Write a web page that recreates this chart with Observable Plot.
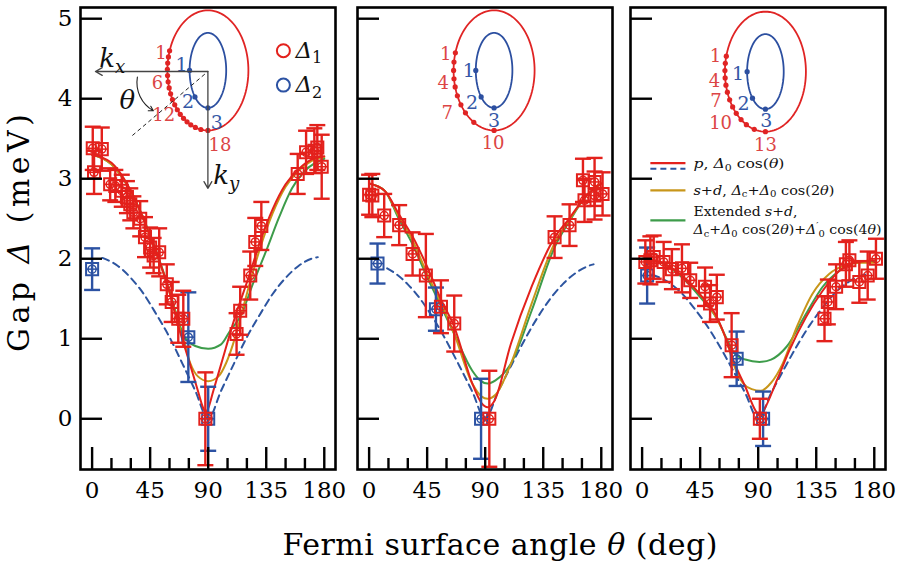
<!DOCTYPE html>
<html><head><meta charset="utf-8">
<script src="https://cdn.jsdelivr.net/npm/d3@7"></script>
<script src="https://cdn.jsdelivr.net/npm/@observablehq/plot@0.6"></script>
<style>
html,body{margin:0;padding:0;background:#fff;}
#chart{position:relative;width:901px;height:569px;background:#fff;overflow:hidden;font-family:"DejaVu Serif",serif;}
#chart svg{position:absolute;}
#chart text{font-family:"DejaVu Serif",serif !important;}
</style></head><body>
<div id="chart"></div>
<script>
// ---------- axes ----------
const thetaTicks = [0, 45, 90, 135, 180];
const thetaMinor = [15, 30, 60, 75, 105, 120, 150, 165];
const gapTicks = [0, 1, 2, 3, 4, 5];

// ---------- measured gaps: [theta (deg), gap (meV), error] ----------
const p1Delta1 = [[0.5,3.38,0.27],[1.5,3.08,0.27],[7.5,3.37,0.27],[14,2.93,0.2],[18,2.91,0.2],[23,2.85,0.2],[27,2.77,0.2],[29.6,2.68,0.2],[32,2.58,0.2],[37.3,2.5,0.22],[41,2.27,0.25],[45,2.14,0.25],[47.7,2.04,0.22],[52,2.08,0.3],[57.9,1.68,0.25],[61.7,1.46,0.25],[66.8,1.25,0.3],[70.7,1.25,0.35],[87.8,0,0.58],[112,1.06,0.26],[114.8,1.35,0.3],[122.6,1.79,0.3],[126.5,2.21,0.3],[131.2,2.41,0.3],[159.4,3.06,0.25],[165.9,3.33,0.27],[172.3,3.35,0.28],[174.6,3.39,0.28],[178,3.15,0.4]];
const p1Delta2 = [[0,1.87,0.26],[74.6,1.02,0.56],[90,0,0.4]];
const p2Delta1 = [[0,2.8,0.25],[2.5,2.79,0.27],[11.7,2.54,0.27],[23.3,2.42,0.25],[33.7,2.06,0.27],[44,1.79,0.52],[55.7,1.4,0.33],[66,1.19,0.35],[93.2,0,0.6],[143.8,2.27,0.26],[155.4,2.42,0.26],[165.8,2.98,0.27],[167,2.73,0.27],[174.8,2.96,0.3],[174.8,2.79,0.3],[181,2.81,0.27]];
const p2Delta2 = [[6.5,1.94,0.25],[51.8,1.37,0.27],[86.8,0,0.5]];
const p3Delta1 = [[2.5,1.96,0.27],[6.4,1.98,0.3],[9,2.02,0.27],[16.7,1.96,0.25],[23.1,1.87,0.25],[30.9,1.88,0.3],[37.3,1.73,0.22],[48.8,1.65,0.24],[52.7,1.44,0.23],[57.9,1.52,0.28],[69.4,0.92,0.4],[91.3,0,0.25],[141.4,1.25,0.28],[144,1.46,0.28],[150.4,1.65,0.28],[158,1.93,0.28],[160.7,1.98,0.25],[168.4,1.71,0.26],[174.9,1.79,0.3],[181.3,2.0,0.25]];
const p3Delta2 = [[3.9,1.79,0.35],[73.3,0.75,0.34],[93.8,0,0.34]];

// ---------- fitted curves: [theta, gap] ----------
const p1FitP   = [[0,3.3],[15,3.2],[30,2.85],[45,2.28],[60,1.58],[67,1.15],[75,0.73],[82,0.35],[86,0.14],[88,0.08],[90,0.13],[94,0.35],[100,0.68],[110,1.23],[122,1.8],[130,2.2],[140,2.62],[150,2.93],[160,3.12],[170,3.24],[180,3.28]];
const p1FitSD  = [[0,3.3],[15,3.18],[30,2.84],[45,2.28],[60,1.58],[67,1.18],[71,0.98],[76,0.7],[82,0.53],[90,0.47],[98,0.53],[104,0.7],[109,0.92],[114,1.2],[122,1.68],[130,2.12],[140,2.57],[150,2.9],[160,3.1],[170,3.22],[180,3.27]];
const p1FitExt = [[0,3.3],[15,3.18],[30,2.84],[45,2.3],[60,1.6],[67,1.22],[71,1.04],[75,0.96],[80,0.91],[90,0.875],[100,0.93],[107,1.1],[115,1.28],[125,1.7],[135,2.1],[145,2.52],[155,2.88],[165,3.1],[180,3.25]];
const p1Dashed = [[8,2.01],[20,1.91],[30,1.76],[40,1.56],[50,1.3],[60,1.02],[70,0.69],[80,0.35],[90,0],[100,0.35],[110,0.69],[120,1.02],[130,1.3],[140,1.56],[150,1.76],[160,1.91],[170,2.0],[175,2.02]];
const p2FitP   = [[0,2.94],[12,2.85],[23,2.56],[34,2.27],[45,1.9],[56,1.48],[66,1.15],[80,0.44],[87,0.2],[92,0.145],[97,0.22],[110,0.94],[126,1.65],[144,2.27],[155,2.5],[168,2.78],[180,2.94]];
const p2FitSD  = [[0,2.94],[12,2.85],[23,2.53],[34,2.22],[45,1.81],[56,1.44],[66,1.06],[80,0.44],[87,0.28],[92,0.25],[98,0.3],[110,0.69],[126,1.44],[144,2.2],[155,2.48],[168,2.78],[180,2.94]];
const p2FitExt = [[0,2.94],[12,2.85],[23,2.5],[34,2.17],[45,1.77],[56,1.4],[66,1.06],[80,0.6],[86,0.48],[92,0.44],[98,0.48],[110,0.69],[126,1.35],[144,2.15],[155,2.46],[168,2.78],[180,2.94]];
const p2Dashed = [[14,1.88],[20,1.82],[30,1.68],[40,1.49],[50,1.25],[60,0.97],[70,0.66],[80,0.34],[90,0],[100,0.34],[110,0.66],[120,0.97],[130,1.25],[140,1.49],[150,1.68],[160,1.82],[170,1.91],[174,1.93]];
const p3FitP   = [[0,2.0],[15,1.95],[30,1.8],[45,1.55],[58,1.27],[65,1.0],[71,0.72],[80,0.4],[88,0.1],[91,0.04],[94,0.1],[105,0.5],[114,0.85],[127,1.27],[140,1.6],[153,1.85],[165,1.95],[180,1.98]];
const p3FitSD  = [[0,2.0],[15,1.95],[30,1.8],[45,1.55],[58,1.25],[65,1.0],[71,0.68],[78,0.45],[85,0.37],[92,0.35],[100,0.45],[109,0.69],[120,1.15],[132,1.56],[145,1.81],[158,1.92],[170,1.95],[180,1.95]];
const p3FitExt = [[0,2.0],[15,1.95],[30,1.78],[45,1.52],[58,1.25],[65,1.02],[71,0.83],[80,0.74],[91,0.71],[100,0.74],[112,0.9],[127,1.31],[140,1.65],[153,1.85],[165,1.95],[180,1.97]];
const p3Dashed = [[8,1.8],[20,1.71],[30,1.58],[40,1.39],[50,1.17],[60,0.91],[70,0.62],[80,0.32],[90,0],[100,0.32],[110,0.62],[120,0.91],[130,1.17],[140,1.39],[150,1.58],[160,1.71],[170,1.79],[175,1.81]];

// ---------- inset Fermi-surface sketches ----------
const insetCenters = [[89.77,4.354],[96.9,4.354],[95.6,4.338]];
const outerRadii = [31.4, 0.75];   // [deg, meV]
const innerRadii = [14.19, 0.469];
const outerDotAngles = [
  [199,193,187,181,175,169,163,157,151,145,139,133,127,121,115,108,100,90],
  [197,188,180,172,164,155,145,135,120,90],
  [195,188,181,174,167,160,152,144,136,127,118,106,90]];
const innerDotAngles = [180,135,90];
const outerLabels = [
  [[0,"1",-3,2,"end"],[5,"6",-5,1,"end"],[11,"12",-5,1,"end"],[17,"18",12,15,"middle"]],
  [[0,"1",-4,1,"end"],[3,"4",-5,4,"end"],[6,"7",-8,8,"end"],[9,"10",-1,13,"middle"]],
  [[0,"1",-5,0,"end"],[3,"4",-5,3,"end"],[6,"7",-8,1,"end"],[9,"10",-9,4,"end"],[12,"13",0,14,"middle"]]];
const innerLabels = [
  [[0,"1",-8,-5],[1,"2",-7,5],[2,"3",9,15]],
  [[0,"1",-7,1],[1,"2",-9,6],[2,"3",0,13]],
  [[0,"1",-9,2],[1,"2",-9,6],[2,"3",1,12]]];
const kAxes = [{x1:89.77,y1:4.34,x2:2.6,y2:4.34},{x1:89.77,y1:4.34,x2:89.77,y2:2.88}];
const kDiag = [{x1:31.2,y1:3.54,x2:89.77,y2:4.34}];
const kTurn = [{x1:35.1,y1:4.27,x2:47.5,y2:3.85}];
const kTexts = [{x:15.7,y:4.5,t:"$k$_{$x$}"},{x:104,y:3.04,t:"$k$_{$y$}"},{x:27.4,y:3.98,t:"$θ$"}];
const seriesKey = [{x:148.3,y:4.6,t:"$Δ$_{1}",c:"red"},{x:148.3,y:4.17,t:"$Δ$_{2}",c:"blue"}];
const fitKeyLines = [{x1:6.4,x2:33.6,y:3.195,c:"p",dash:false},{x1:6.4,x2:33.6,y:3.125,c:"dash",dash:true},{x1:6.4,x2:33.6,y:2.854,c:"sd",dash:false},{x1:6.4,x2:33.6,y:2.479,c:"ext",dash:false}];
const fitKeyTexts = [{x:39.8,y:3.18,t:"$p$, $Δ$_{0} cos($θ$)"},{x:39.8,y:2.854,t:"$s$+$d$, $Δ$_{c}+$Δ$_{0} cos(2$θ$)"},{x:39.8,y:2.585,t:"Extended $s$+$d$,"},{x:39.8,y:2.36,t:"$Δ$_{c}+$Δ$_{0} cos(2$θ$)+$Δ$^{′}_{0} cos(4$θ$)"}];
const textLengths = {"$p$, $Δ$_{0} cos($θ$)":91,"$s$+$d$, $Δ$_{c}+$Δ$_{0} cos(2$θ$)":141,"Extended $s$+$d$,":104,"$Δ$_{c}+$Δ$_{0} cos(2$θ$)+$Δ$^{′}_{0} cos(4$θ$)":188};

// ---------- styles ----------
const C = {red:"#e3211c", blue:"#2c52a3", sd:"#c8961a", ext:"#3d9c4a", dash:"#2d55a0", p:"#e3211c",
           lred:"#dc4545", lblue:"#3557a6", ered:"#e02424", eblue:"#2c4fa0"};
const FONT = "'DejaVu Serif',serif";
const frameLefts = [80, 357, 630];
const W = 255, H = 462, ML = 70, MR = 10, MT = 7, MB = 40;

const cap = {draw(ctx, size){ const r = Math.sqrt(size/Math.PI); ctx.moveTo(-r,0); ctx.lineTo(r,0); }};
const ellipse = (c, rad) => d3.range(0, 361, 3).map(a => [c[0] + rad[0]*Math.cos(a*Math.PI/180), c[1] - rad[1]*Math.sin(a*Math.PI/180)]);
const onEllipse = (c, rad, a) => [c[0] + rad[0]*Math.cos(a*Math.PI/180), c[1] - rad[1]*Math.sin(a*Math.PI/180)];

function errMarks(data, color){
  return [
    Plot.ruleX(data, {x: d=>d[0], y1: d=>d[1]-d[2], y2: d=>d[1]+d[2], stroke: color, strokeWidth: 2.4, clip: true}),
    Plot.dot(data, {x: d=>d[0], y: d=>d[1]-d[2], symbol: cap, r: 8, stroke: color, strokeWidth: 2.4, fill: "none", clip: true}),
    Plot.dot(data, {x: d=>d[0], y: d=>d[1]+d[2], symbol: cap, r: 8, stroke: color, strokeWidth: 2.4, fill: "none", clip: true}),
    Plot.dot(data, {x: d=>d[0], y: d=>d[1], symbol: "square", r: 6.8, stroke: color, strokeWidth: 2, fill: "none"}),
    Plot.dot(data, {x: d=>d[0], y: d=>d[1], r: 4, stroke: color, strokeWidth: 1.5, fill: "none"}),
    Plot.dot(data, {x: d=>d[0], y: d=>d[1], symbol: cap, r: 6, stroke: color, strokeWidth: 1.5, fill: "none"})
  ];
}
function fitLine(data, color, dashed){
  return Plot.line(data, {x: d=>d[0], y: d=>d[1], stroke: color, strokeWidth: 2, curve: "monotone-x",
    strokeDasharray: dashed ? "7,5" : null, clip: true});
}
function insetMarks(i){
  const c = insetCenters[i];
  const outerPts = outerDotAngles[i].map(a => onEllipse(c, outerRadii, a));
  const innerPts = innerDotAngles.map(a => onEllipse(c, innerRadii, a));
  const m = [
    Plot.line(ellipse(c, outerRadii), {x: d=>d[0], y: d=>d[1], stroke: C.ered, strokeWidth: 1.8}),
    Plot.line(ellipse(c, innerRadii), {x: d=>d[0], y: d=>d[1], stroke: C.eblue, strokeWidth: 1.8}),
    Plot.dot(outerPts, {x: d=>d[0], y: d=>d[1], r: 2.6, fill: C.ered}),
    Plot.dot(innerPts, {x: d=>d[0], y: d=>d[1], r: 2.6, fill: C.eblue})
  ];
  for (const [k, t, dx, dy, anchor] of outerLabels[i])
    m.push(Plot.text([outerPts[k]], {x: d=>d[0], y: d=>d[1], text: ()=>t, dx, dy, textAnchor: anchor, fontSize: 18, fontFamily: FONT, fill: C.lred}));
  for (const [k, t, dx, dy] of innerLabels[i])
    m.push(Plot.text([innerPts[k]], {x: d=>d[0], y: d=>d[1], text: ()=>t, dx, dy, fontSize: 19, fontFamily: FONT, fill: C.lblue}));
  return m;
}

function panel(i, d1, d2, fitP, fitSD, fitExt, dashed, extra){
  const marks = [
    fitLine(dashed, C.dash, true),
    fitLine(fitExt, C.ext), fitLine(fitSD, C.sd), fitLine(fitP, C.p),
    ...errMarks(d2, C.blue),
    ...errMarks(d1, C.red),
    ...insetMarks(i),
    ...extra,
    Plot.tickX(thetaTicks, {x: d=>d, insetTop: H-22, stroke: "black", strokeWidth: 2.4}),
    Plot.tickX(thetaMinor, {x: d=>d, insetTop: H-11, stroke: "black", strokeWidth: 2.4}),
    Plot.tickY(gapTicks, {y: d=>d, insetRight: W-22, stroke: "black", strokeWidth: 2.4}),
    Plot.frame({stroke: "black", strokeWidth: 2.6}),
    Plot.axisX({ticks: thetaTicks, tickFormat: "d", tickSize: 0, tickPadding: 12, fontSize: 23, fontFamily: FONT, label: null})
  ];
  if (i === 0) marks.push(Plot.axisY({ticks: gapTicks, tickFormat: "d", tickSize: 0, tickPadding: 8, fontSize: 23, fontFamily: FONT, label: null, anchor: "left"}));
  const svg = Plot.plot({
    width: ML + W + MR, height: MT + H + MB,
    marginLeft: ML, marginRight: MR, marginTop: MT, marginBottom: MB,
    x: {domain: [-9, 188.7], axis: null},
    y: {domain: [-0.634, 5.14], axis: i === 0 ? undefined : null},
    style: {background: "transparent", fontFamily: FONT, overflow: "visible"},
    marks
  });
  svg.style.left = (frameLefts[i] - ML) + "px";
  svg.style.top = "0px";
  return svg;
}

// rich text: $...$ italic, _{..} subscript, ^{..} superscript
function parse(s){
  const segs = []; let ital = false, buf = "";
  const flush = () => { if (buf) { segs.push({text: buf, ital, shift: 0}); buf = ""; } };
  for (let i = 0; i < s.length;) {
    const c = s[i];
    if (c === "$") { flush(); ital = !ital; i++; }
    else if ((c === "_" || c === "^") && s[i+1] === "{") {
      flush(); const j = s.indexOf("}", i); let inner = s.slice(i+2, j); let it = false;
      if (inner.includes("$")) { it = true; inner = inner.replace(/\$/g, ""); }
      segs.push({text: inner, ital: it, shift: c === "_" ? 1 : -1}); i = j + 1;
    } else { buf += c; i++; }
  }
  flush(); return segs;
}
function richify(root){
  root.querySelectorAll("text").forEach(t => {
    if (t.querySelector("tspan")) return;
    const s = t.textContent;
    if (!/[$_^]/.test(s)) return;
    const segs = parse(s);
    t.textContent = "";
    let cur = 0;
    for (const g of segs) {
      const el = document.createElementNS("http://www.w3.org/2000/svg", "tspan");
      const scale = g.shift ? 0.7 : 1;
      const target = g.shift === 1 ? 0.22 : g.shift === -1 ? -0.38 : 0;
      if (target !== cur) el.setAttribute("dy", ((target - cur)/scale).toFixed(3) + "em");
      cur = target;
      if (scale !== 1) el.setAttribute("font-size", "70%");
      if (g.ital) el.setAttribute("font-style", "italic");
      el.textContent = g.text;
      t.appendChild(el);
    }
    if (textLengths[s]) { t.setAttribute("textLength", textLengths[s]); t.setAttribute("lengthAdjust", "spacingAndGlyphs"); }
  });
}

// panel-specific extras
const extra1 = [
  Plot.link(kDiag, {x1:"x1", y1:"y1", x2:"x2", y2:"y2", stroke: "#222", strokeWidth: 1, strokeDasharray: "4,3"}),
  Plot.arrow(kAxes, {x1:"x1", y1:"y1", x2:"x2", y2:"y2", stroke: "#444", strokeWidth: 1.3, headLength: 9}),
  Plot.arrow(kTurn, {x1:"x1", y1:"y1", x2:"x2", y2:"y2", stroke: "#222", strokeWidth: 1.1, headLength: 7, bend: -35}),
  Plot.text(kTexts, {x:"x", y:"y", text:"t", fontSize: 26, fontFamily: FONT, fill: "#111"}),
  Plot.dot(seriesKey, {x:"x", y:"y", r: 6.5, stroke: d => C[d.c], strokeWidth: 2, fill: "none"}),
  Plot.text(seriesKey, {x:"x", y:"y", text:"t", dx: 12, textAnchor: "start", fontSize: 23, fontFamily: FONT, fill: "#111"})
];
const extra3 = [
  Plot.link(fitKeyLines.filter(d=>!d.dash), {x1:"x1", x2:"x2", y1:"y", y2:"y", stroke: d => C[d.c], strokeWidth: 2.4}),
  Plot.link(fitKeyLines.filter(d=>d.dash), {x1:"x1", x2:"x2", y1:"y", y2:"y", stroke: C.dash, strokeWidth: 2.2, strokeDasharray: "6,4"}),
  Plot.text(fitKeyTexts, {x:"x", y:"y", text:"t", textAnchor: "start", fontSize: 13, fontFamily: FONT, fill: "#111"})
];

const chart = document.getElementById("chart");
const panels = [
  panel(0, p1Delta1, p1Delta2, p1FitP, p1FitSD, p1FitExt, p1Dashed, extra1),
  panel(1, p2Delta1, p2Delta2, p2FitP, p2FitSD, p2FitExt, p2Dashed, []),
  panel(2, p3Delta1, p3Delta2, p3FitP, p3FitSD, p3FitExt, p3Dashed, extra3)
];
panels.forEach(s => { chart.appendChild(s); richify(s); });

// axis titles
const ns = "http://www.w3.org/2000/svg";
const tsvg = document.createElementNS(ns, "svg");
tsvg.setAttribute("width", 901); tsvg.setAttribute("height", 569);
tsvg.style.left = "0px"; tsvg.style.top = "0px"; tsvg.style.pointerEvents = "none";
tsvg.innerHTML =
  `<text transform="translate(29,233) rotate(-90)" text-anchor="middle" font-size="30" textLength="238" lengthAdjust="spacing">Gap <tspan font-style="italic">Δ</tspan> (meV)</text>` +
  `<text x="500" y="555" text-anchor="middle" font-size="30" textLength="435" lengthAdjust="spacing">Fermi surface angle <tspan font-style="italic">θ</tspan> (deg)</text>`;
chart.appendChild(tsvg);
</script>
</body></html>
